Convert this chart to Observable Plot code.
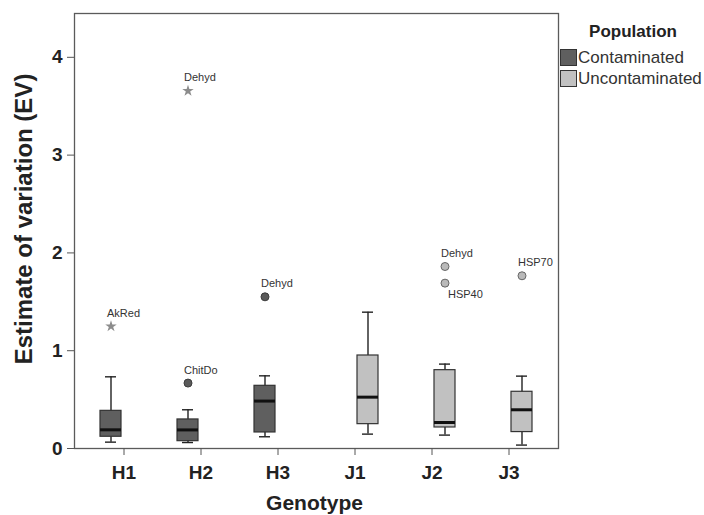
<!DOCTYPE html>
<html>
<head>
<meta charset="utf-8">
<script src="https://cdn.jsdelivr.net/npm/d3@7"></script>
<script src="https://cdn.jsdelivr.net/npm/@observablehq/plot@0.6"></script>
<style>
  body { margin: 0; background: #fff; font-family: "Liberation Sans", Arial, sans-serif; }
  #chart { position: relative; width: 704px; height: 515px; }
  #legend { position: absolute; left: 560px; top: 22px; width: 144px; color: #222; }
  #legend .title { font-weight: bold; font-size: 17px; line-height: 20px; text-align: center; padding-left: 2px; margin-bottom: 5.5px; }
  #legend .item { display: flex; align-items: center; height: 20.7px; font-size: 17px; color: #333; white-space: nowrap; }
  #legend .swatch { box-sizing: border-box; width: 17px; height: 17px; border: 1px solid #333; margin-right: 1px; flex: none; }
</style>
</head>
<body>
<div id="chart"><div id="legend"></div></div>
<script>
// Genotype categories on the x axis and the two populations
const genotypes = ["H1", "H2", "H3", "J1", "J2", "J3"];
const populations = ["Contaminated", "Uncontaminated"];
const populationFill = ["#5f5f5f", "#c1c1c1"];
const yTicks = [0, 1, 2, 3, 4];

// Box summaries, one per genotype
const boxPopulation = ["Contaminated", "Contaminated", "Contaminated", "Uncontaminated", "Uncontaminated", "Uncontaminated"];
const whiskerLow  = [0.065, 0.061, 0.120, 0.147, 0.137, 0.035];
const quartile1   = [0.120, 0.075, 0.164, 0.249, 0.215, 0.168];
const medianValue = [0.191, 0.190, 0.485, 0.525, 0.266, 0.396];
const quartile3   = [0.385, 0.297, 0.641, 0.951, 0.801, 0.580];
const whiskerHigh = [0.733, 0.396, 0.743, 1.394, 0.863, 0.740];

// Outliers (circle) and extreme values (star) with their gene labels
const outlierGenotype   = ["H1", "H2", "H2", "H3", "J2", "J2", "J3"];
const outlierPopulation = ["Contaminated", "Contaminated", "Contaminated", "Contaminated", "Uncontaminated", "Uncontaminated", "Uncontaminated"];
const outlierValue      = [1.25, 3.657, 0.669, 1.551, 1.861, 1.691, 1.766];
const outlierLabel      = ["AkRed", "Dehyd", "ChitDo", "Dehyd", "Dehyd", "HSP40", "HSP70"];
const outlierKind       = ["extreme", "extreme", "outlier", "outlier", "outlier", "outlier", "outlier"];

const boxes = genotypes.map((g, i) => ({
  genotype: g, population: boxPopulation[i],
  lo: whiskerLow[i], q1: quartile1[i], median: medianValue[i], q3: quartile3[i], hi: whiskerHigh[i]
}));

const outliers = outlierGenotype.map((g, i) => ({
  genotype: g, population: outlierPopulation[i], value: outlierValue[i],
  label: outlierLabel[i], kind: outlierKind[i]
}));
// a label goes below its point when another outlier of the same box sits just above it
outliers.forEach(d => {
  d.below = outliers.some(o => o !== d && o.genotype === d.genotype && o.value > d.value && o.value - d.value < 0.3);
});

const fillOf = p => populationFill[populations.indexOf(p)];
// the two populations sit side by side within each genotype slot
const offsetOf = p => (p === "Contaminated" ? -13 : 13);

const marks = [];
for (const p of populations) {
  const o = offsetOf(p);
  const b = boxes.filter(d => d.population === p);
  const out = outliers.filter(d => d.population === p);
  marks.push(
    Plot.ruleX(b, {x: "genotype", y1: "lo", y2: "hi", dx: o, stroke: "#222", strokeWidth: 1.4}),
    Plot.tickY(b, {x: "genotype", y: "lo", dx: o, inset: 5, stroke: "#222", strokeWidth: 1.4}),
    Plot.tickY(b, {x: "genotype", y: "hi", dx: o, inset: 5, stroke: "#222", strokeWidth: 1.4}),
    Plot.barY(b, {x: "genotype", y1: "q1", y2: "q3", dx: o, fill: fillOf(p), stroke: "#333", strokeWidth: 1.2}),
    Plot.tickY(b, {x: "genotype", y: "median", dx: o, stroke: "#111", strokeWidth: 3}),
    Plot.dot(out.filter(d => d.kind === "outlier"), {
      x: "genotype", y: "value", dx: o, r: 4,
      fill: p === "Contaminated" ? "#5a5a5a" : "#b9b9b9",
      stroke: p === "Contaminated" ? "#3c3c3c" : "#666", strokeWidth: 1
    }),
    Plot.dot(out.filter(d => d.kind === "extreme"), {
      x: "genotype", y: "value", dx: o, r: 3.6, symbol: "star", fill: "#8c8c8c", stroke: "none"
    }),
    Plot.text(out.filter(d => !d.below), {
      x: "genotype", y: "value", text: "label", dx: o - 4, dy: -13,
      textAnchor: "start", fontSize: 11, fill: "#333"
    }),
    Plot.text(out.filter(d => d.below), {
      x: "genotype", y: "value", text: "label", dx: o + 3, dy: 11,
      textAnchor: "start", fontSize: 11, fill: "#333"
    })
  );
}

const chart = Plot.plot({
  width: 704,
  height: 515,
  marginLeft: 74,
  marginRight: 146,
  marginTop: 13,
  marginBottom: 67,
  style: {fontFamily: "'Liberation Sans', Arial, sans-serif", background: "#fff", color: "#222"},
  x: {type: "band", domain: genotypes, paddingInner: 0.727, paddingOuter: 0.5, axis: null},
  y: {domain: [0, 4.448], axis: null},
  marks: [
    ...marks,
    Plot.frame({stroke: "#5a5a5a", strokeWidth: 1.3}),
    Plot.axisY({ticks: yTicks, tickFormat: d3.format("d"), tickSize: 7, tickPadding: 5,
      label: null, fontSize: 19, fontWeight: "bold", stroke: "#555", fill: "#222"}),
    Plot.axisX({tickSize: 7, tickPadding: 10, label: null, fontSize: 19, fontWeight: "bold",
      stroke: "#555", fill: "#222"}),
    Plot.text(["Estimate of variation (EV)"], {frameAnchor: "left", rotate: -90, dx: -50, dy: -12,
      textAnchor: "middle", lineAnchor: "middle", fontSize: 24, fontWeight: "bold", fill: "#222"}),
    Plot.text(["Genotype"], {frameAnchor: "bottom", dx: -2, dy: 55, textAnchor: "middle", lineAnchor: "middle",
      fontSize: 21, fontWeight: "bold", fill: "#222"})
  ]
});

const container = document.getElementById("chart");
container.insertBefore(chart, container.firstChild);

// Legend for the population fill colours
const legend = document.getElementById("legend");
legend.innerHTML = `<div class="title">Population</div>` + populations.map((p, i) =>
  `<div class="item"><span class="swatch" style="background:${populationFill[i]}"></span>${p}</div>`
).join("");
</script>
</body>
</html>
